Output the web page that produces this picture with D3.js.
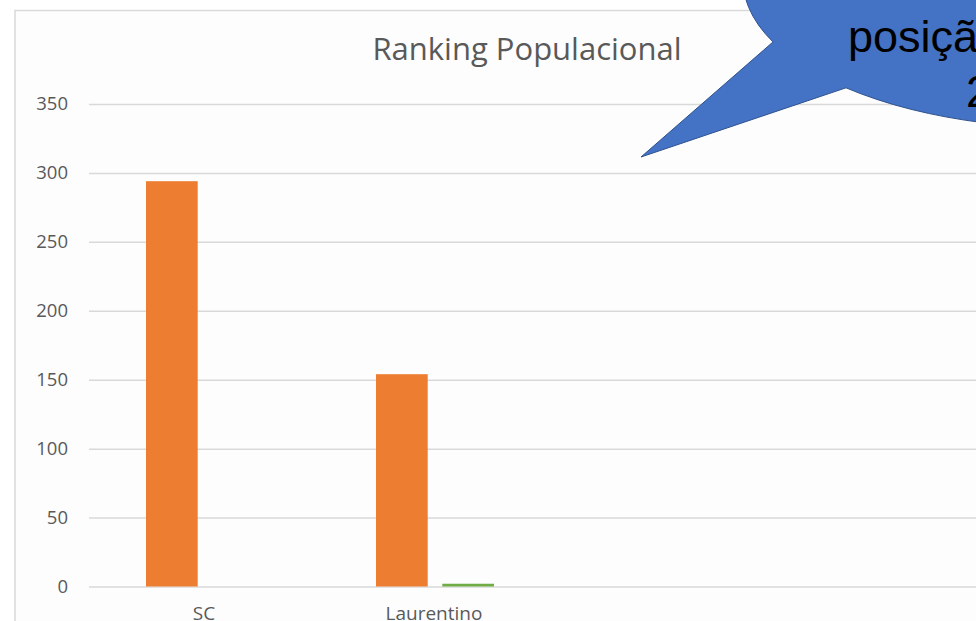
<!DOCTYPE html>
<html>
<head>
<meta charset="utf-8">
<script src="https://cdn.jsdelivr.net/npm/d3@7"></script>
<style>
  html, body { margin: 0; padding: 0; background: #fff; overflow: hidden; }
  svg { display: block; }
</style>
</head>
<body>
<div id="chart"></div>
<script>
// chart data
var categories = ["SC", "Laurentino"];
var seriesNames = ["Série 1", "Série 2"];
var serie1 = [294, 154];
var serie2 = [0, 2];
var yTicks = [0, 50, 100, 150, 200, 250, 300, 350];
var titulo = "Ranking Populacional";
var balaoTexto = ["posição", "2"];

var W = 976, H = 621;
var margin = {top: 104, left: 89, bottom: H - 586.5};
var step = 230;
var plotRight = W + 40;

var svg = d3.select("#chart").append("svg")
    .attr("width", W)
    .attr("height", H);

// chart area border
svg.append("rect")
    .attr("x", 15)
    .attr("y", 10.5)
    .attr("width", W + 20)
    .attr("height", H + 20)
    .attr("fill", "#fdfdfd")
    .attr("stroke", "#d9d9d9")
    .attr("stroke-width", 1.5);

var y = d3.scaleLinear()
    .domain([0, 350])
    .range([H - margin.bottom, margin.top]);

var x0 = d3.scaleBand()
    .domain(categories)
    .range([margin.left, margin.left + step * categories.length]);

var x1 = d3.scaleBand()
    .domain(seriesNames)
    .range([57, 175])
    .paddingInner(0.22);

var color = d3.scaleOrdinal()
    .domain(seriesNames)
    .range(["#ED7D31", "#70AD47"]);

// y axis + gridlines
var yAxis = svg.append("g")
    .attr("transform", "translate(" + margin.left + ",0)")
    .call(d3.axisLeft(y)
        .tickValues(yTicks)
        .tickSize(-(plotRight - margin.left))
        .tickPadding(21));
yAxis.select(".domain").remove();
yAxis.selectAll(".tick line")
    .attr("stroke", "#d9d9d9")
    .attr("stroke-width", 1.5);
yAxis.selectAll(".tick text")
    .attr("fill", "#595959")
    .style("font-family", "'Open Sans', sans-serif")
    .style("font-size", "18.5px");

// bars
var rows = categories.map(function(c, i) {
    return {cat: c, values: [{s: seriesNames[0], v: serie1[i]}, {s: seriesNames[1], v: serie2[i]}]};
});

var groups = svg.selectAll(".grupo")
    .data(rows)
  .enter().append("g")
    .attr("class", "grupo")
    .attr("transform", function(d) { return "translate(" + x0(d.cat) + ",0)"; });

groups.selectAll("rect")
    .data(function(d) { return d.values; })
  .enter().append("rect")
    .attr("x", function(d) { return x1(d.s); })
    .attr("width", x1.bandwidth())
    .attr("y", function(d) { return y(d.v); })
    .attr("height", function(d) { return y(0) - y(d.v); })
    .attr("fill", function(d) { return color(d.s); });

// x axis labels
var xAxis = svg.append("g")
    .attr("transform", "translate(0," + y(0) + ")")
    .call(d3.axisBottom(x0).tickSize(0).tickPadding(20.5));
xAxis.select(".domain").remove();
xAxis.selectAll(".tick text")
    .attr("fill", "#595959")
    .style("font-family", "'Open Sans', sans-serif")
    .style("font-size", "19px");

// title
svg.append("text")
    .attr("x", 527)
    .attr("y", 60)
    .attr("text-anchor", "middle")
    .attr("fill", "#595959")
    .style("font-family", "'Open Sans', sans-serif")
    .style("font-size", "31px")
    .text(titulo);

// callout bubble (ellipse with wedge to tip)
var cx = 1070, cy = -20, rx = 327, ry = 148;
function onEllipse(px) {
    var c = (px - cx) / rx;
    return [px, cy + ry * Math.sqrt(1 - c * c)];
}
var a = onEllipse(773), b = onEllipse(846), tip = [641, 157];
var bubble = "M" + a + "L" + tip + "L" + b +
    "A" + rx + "," + ry + " 0 1 0 " + a + "Z";

svg.append("path")
    .attr("d", bubble)
    .attr("fill", "#4472C4")
    .attr("stroke", "#2F528F")
    .attr("stroke-width", 1);

svg.append("text")
    .attr("x", 848)
    .attr("y", 52)
    .attr("fill", "#000")
    .style("font-family", "'Liberation Sans', Arial, sans-serif")
    .style("font-size", "45px")
    .text(balaoTexto[0]);

svg.append("text")
    .attr("x", 966)
    .attr("y", 107)
    .attr("fill", "#000")
    .style("font-family", "'Liberation Sans', Arial, sans-serif")
    .style("font-size", "45px")
    .text(balaoTexto[1]);
</script>
</body>
</html>
